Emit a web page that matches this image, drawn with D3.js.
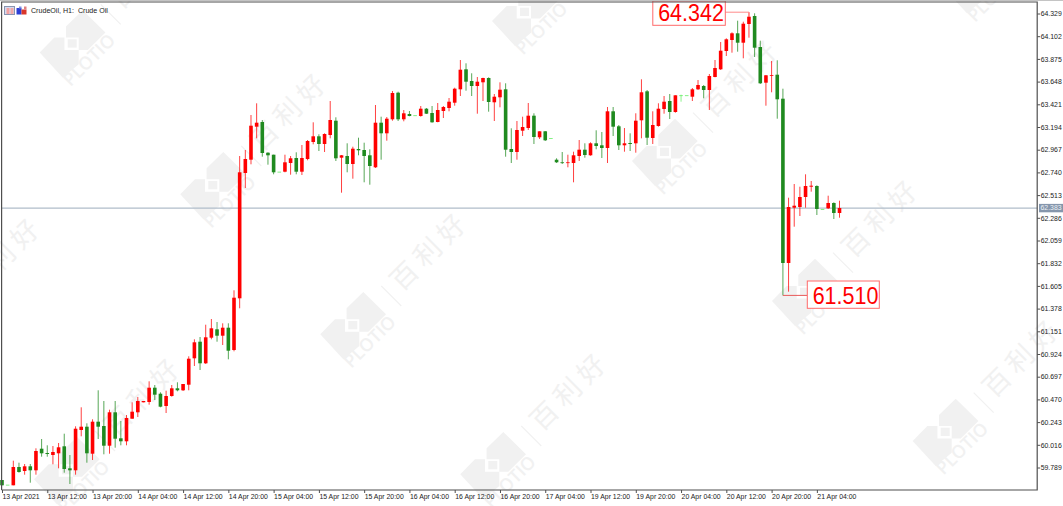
<!DOCTYPE html>
<html><head><meta charset="utf-8">
<script src="https://cdn.jsdelivr.net/npm/d3@7/dist/d3.min.js"></script>
<style>html,body{margin:0;padding:0;background:#fff;overflow:hidden}svg{display:block}</style>
</head><body><svg id="c" width="1063" height="506"></svg>
<script>
const opens=[59.664,59.617,59.611,59.794,59.754,59.801,59.761,59.977,59.934,59.914,59.931,60.001,59.781,59.761,60.164,60.197,59.927,60.247,60.204,60.007,60.341,60.081,60.051,60.277,60.341,60.441,60.444,60.587,60.527,60.404,60.504,60.581,60.561,60.617,60.881,61.047,60.831,61.087,61.171,61.107,61.187,60.964,61.481,62.734,62.867,63.197,63.244,62.937,62.917,62.747,62.747,62.834,62.884,62.747,62.874,63.044,63.101,63.024,63.114,63.257,62.887,62.904,62.824,62.974,62.964,62.911,62.791,63.237,63.131,63.271,63.537,63.271,63.324,63.311,63.304,63.377,63.334,63.244,63.354,63.384,63.437,63.571,63.771,63.654,63.604,63.641,63.684,63.441,63.491,63.571,62.974,62.944,63.157,63.184,63.307,63.091,63.151,63.084,62.867,62.841,62.834,62.834,62.904,62.967,62.911,63.031,63.011,62.984,63.351,63.201,63.011,63.034,63.031,63.261,63.551,63.084,63.204,63.374,63.454,63.344,63.511,63.511,63.497,63.571,63.604,63.564,63.694,63.771,63.954,64.064,64.131,64.037,64.224,64.304,63.994,63.637,63.707,63.717,63.477,61.834,62.387,62.394,62.494,62.597,62.604,62.374,62.381,62.434,62.334];
const highs=[59.664,59.617,59.857,59.837,59.824,59.824,59.981,60.074,60.011,60.004,60.034,60.127,59.914,60.201,60.391,60.231,60.271,60.561,60.454,60.367,60.454,60.254,60.314,60.441,60.494,60.454,60.651,60.614,60.541,60.557,60.614,60.641,60.624,60.901,61.071,61.094,61.217,61.274,61.244,61.231,61.231,61.561,62.904,62.964,63.314,63.431,63.264,62.941,62.917,62.747,62.917,62.904,62.941,63.014,63.064,63.241,63.121,63.131,63.454,63.291,62.914,63.031,62.997,63.087,63.037,62.971,63.414,63.297,63.294,63.554,63.547,63.364,63.354,63.311,63.404,63.384,63.404,63.434,63.404,63.484,63.587,63.864,63.831,63.731,63.694,63.687,63.691,63.524,63.641,63.631,63.181,63.254,63.297,63.434,63.331,63.151,63.154,63.084,62.881,62.944,62.917,62.947,63.064,63.031,63.041,63.161,63.144,63.394,63.394,63.214,63.184,63.131,63.331,63.671,63.564,63.351,63.431,63.504,63.524,63.511,63.517,63.511,63.584,63.664,63.614,63.724,63.864,64.044,64.081,64.141,64.257,64.247,64.342,64.331,64.057,63.714,63.854,63.861,63.577,62.487,62.624,62.597,62.721,62.654,62.611,62.374,62.507,62.441,62.457];
const lows=[59.611,59.617,59.611,59.737,59.717,59.637,59.717,59.897,59.897,59.821,59.781,59.737,59.624,59.717,60.101,59.837,59.864,60.074,59.921,59.927,59.987,60.011,60.011,60.277,60.294,60.441,60.417,60.464,60.391,60.334,60.497,60.551,60.554,60.561,60.804,60.764,60.824,61.071,61.047,61.014,60.871,60.951,61.381,62.584,62.821,63.081,62.897,62.817,62.721,62.747,62.741,62.717,62.721,62.714,62.861,63.021,62.954,62.944,63.081,62.854,62.537,62.741,62.677,62.911,62.641,62.617,62.784,62.867,63.057,63.257,63.254,63.251,63.301,63.311,63.297,63.324,63.237,63.241,63.284,63.351,63.407,63.504,63.557,63.504,63.327,63.454,63.347,63.254,63.391,62.897,62.834,62.867,63.104,63.164,63.024,63.074,63.054,63.084,62.834,62.824,62.791,62.641,62.854,62.887,62.907,62.971,62.884,62.834,63.104,62.964,62.947,62.954,62.937,63.081,63.014,63.024,63.197,63.327,63.274,63.337,63.447,63.511,63.454,63.564,63.481,63.364,63.691,63.764,63.904,63.937,63.947,63.881,64.087,63.894,63.624,63.407,63.541,63.277,61.510,61.547,62.197,62.304,62.387,62.547,62.314,62.374,62.374,62.274,62.287];
const closes=[59.611,59.617,59.794,59.744,59.801,59.761,59.954,59.931,59.924,59.944,59.991,59.774,59.761,60.177,60.197,59.931,60.247,60.197,60.007,60.341,60.077,60.051,60.284,60.347,60.454,60.454,60.587,60.517,60.397,60.504,60.581,60.561,60.624,60.877,61.041,60.831,61.091,61.181,61.107,61.187,60.957,61.487,62.741,62.874,63.207,63.237,62.934,62.911,62.741,62.747,62.841,62.881,62.747,62.884,63.054,63.101,63.024,63.124,63.264,62.881,62.911,62.824,62.977,62.961,62.904,62.804,63.237,63.131,63.277,63.534,63.271,63.331,63.304,63.311,63.377,63.327,63.241,63.364,63.394,63.447,63.577,63.767,63.647,63.604,63.647,63.684,63.444,63.497,63.567,62.967,62.944,63.164,63.194,63.307,63.094,63.151,63.061,63.084,62.841,62.834,62.841,62.911,62.967,62.914,63.031,63.004,62.984,63.351,63.197,63.011,63.031,63.024,63.257,63.541,63.087,63.214,63.377,63.447,63.344,63.511,63.511,63.511,63.571,63.614,63.564,63.704,63.784,63.957,64.071,64.131,64.037,64.227,64.297,63.987,63.631,63.711,63.714,63.471,61.834,62.394,62.407,62.494,62.604,62.607,62.374,62.374,62.434,62.334,62.384];
const priceTicks=[64.329,64.102,63.875,63.648,63.421,63.194,62.967,62.740,62.513,62.286,62.059,61.832,61.605,61.378,61.151,60.924,60.697,60.470,60.243,60.016,59.789];
const timeLabels=["13 Apr 2021","13 Apr 12:00","13 Apr 20:00","14 Apr 04:00","14 Apr 12:00","14 Apr 20:00","15 Apr 04:00","15 Apr 12:00","15 Apr 20:00","16 Apr 04:00","16 Apr 12:00","16 Apr 20:00","17 Apr 04:00","19 Apr 12:00","19 Apr 20:00","20 Apr 04:00","20 Apr 12:00","20 Apr 20:00","21 Apr 04:00"];
const tickEvery=8;
const bidPrice=62.383, highPrice=64.342, lowPrice=61.510;
const title="CrudeOil, H1:  Crude Oil";
const wmOrigins=[[72.7,43.3],[213.3,185],[353.3,325],[493.3,465],[-73,330],[67,470],[525,11.7],[665,151.7],[805,291.7],[945.7,431.7],[977,-21]];

const svg=d3.select("#c");
const RED="#ff0000",GREEN="#1f8a1f",FLAT="#66ee66",AXIS="#4f4f4f",WM="#f1f1f1";
const x=d3.scaleLinear().domain([0,148]).range([2,839.5]);
const y=d3.scaleLinear().domain([59.789,64.329]).range([467.5,13.5]);
const L=1.6,R=1037.2,T=2,B=490;

// watermarks
const wm=svg.append("g");
const upper=[[10,-33],[32.7,-10.7],[15,6.7],[6,6.7],[6,-5.7],[-6.7,-5.7],[-6.7,-16.7]];
const lower=[[-33,9.3],[-18.3,-5.7],[-8.3,-5.7],[-8.3,6.7],[6,6.7],[6,21],[-10,34.3]];
wmOrigins.forEach(o=>{
  const g=wm.append("g").attr("transform",`translate(${o[0]},${o[1]})`);
  [upper,lower].forEach(p=>g.append("polygon").attr("points",p.join(" ")).attr("fill",WM));
  g.append("rect").attr("x",-5).attr("y",-4).attr("width",9).attr("height",8.3).attr("fill",WM);
  g.append("text").text("PLOTIO").attr("transform","translate(17.4,17.7) rotate(-45)")
    .attr("text-anchor","middle").attr("dominant-baseline","middle")
    .attr("font-family","Open Sans").attr("font-weight",600).attr("font-size",18).attr("fill",WM);
  g.append("line").attr("x1",28).attr("y1",-39).attr("x2",48).attr("y2",-19).attr("stroke",WM).attr("stroke-width",1.2);
  g.append("text").text("百利好").attr("transform","translate(78,-73) rotate(-45)")
    .attr("text-anchor","middle").attr("dominant-baseline","middle").attr("letter-spacing",6)
    .attr("font-family","Noto Sans CJK SC").attr("font-size",27).attr("fill",WM);
});

// bid line
svg.append("line").attr("x1",L).attr("x2",R).attr("y1",y(bidPrice)).attr("y2",y(bidPrice)).attr("stroke","#b0bdca").attr("stroke-width",1.3);

// candles
const idx=d3.range(opens.length);
const col=i=>closes[i]>opens[i]?RED:closes[i]<opens[i]?GREEN:FLAT;
const cs=svg.append("g");
cs.selectAll("line").data(idx).join("line")
  .attr("x1",i=>x(i)).attr("x2",i=>x(i)).attr("y1",i=>y(highs[i])).attr("y2",i=>y(lows[i]))
  .attr("stroke",col).attr("stroke-width",1).attr("stroke-opacity",0.75);
cs.selectAll("rect").data(idx).join("rect")
  .attr("x",i=>x(i)-1.8).attr("width",3.6)
  .attr("y",i=>y(Math.max(opens[i],closes[i])))
  .attr("height",i=>Math.max(0.8,Math.abs(y(opens[i])-y(closes[i]))))
  .attr("fill",col);

// annotations
const hi=132, lo=138;
const ann=svg.append("g");
ann.append("path").attr("d",`M725.3,${y(highPrice)}H${x(hi)}V${y(highs[hi])+4}`).attr("fill","none").attr("stroke","#ff8a8a").attr("stroke-width",1);
ann.append("path").attr("d",`M${x(lo)},${y(lowPrice)}H807.3`).attr("fill","none").attr("stroke","#e85a5a").attr("stroke-width",1);
ann.append("rect").attr("x",652.8).attr("y",1).attr("width",72.5).attr("height",24.3).attr("fill","#fff").attr("stroke","#ff6a6a");
ann.append("rect").attr("x",807.3).attr("y",281).attr("width",72).attr("height",27.3).attr("fill","#fff").attr("stroke","#ff6a6a");
ann.append("text").text(highPrice.toFixed(3)).attr("x",691).attr("y",20.8).attr("text-anchor","middle")
  .attr("textLength",65.7).attr("lengthAdjust","spacingAndGlyphs")
  .attr("font-family","Liberation Sans").attr("font-size",23.5).attr("fill",RED);
ann.append("text").text(lowPrice.toFixed(3)).attr("x",845.5).attr("y",304).attr("text-anchor","middle")
  .attr("textLength",65.7).attr("lengthAdjust","spacingAndGlyphs")
  .attr("font-family","Liberation Sans").attr("font-size",23.5).attr("fill",RED);

// frame
svg.append("path").attr("fill","none").attr("stroke",AXIS).attr("stroke-width",1.2)
  .attr("d",`M${L},${B}V${T}H${R}V${B}H${L}`);
svg.append("line").attr("x1",0).attr("x2",1063).attr("y1",0.5).attr("y2",0.5).attr("stroke","#c4c4c4");

// axes
const yAxis=d3.axisRight(y).tickValues(priceTicks).tickFormat(d3.format(".3f")).tickSize(3).tickPadding(0.5);
const ya=svg.append("g").attr("transform",`translate(${R},0)`).call(yAxis);
const tickIdx=timeLabels.map((_,k)=>k*tickEvery);
const xAxis=d3.axisBottom(x).tickValues(tickIdx).tickFormat((d,k)=>timeLabels[k]).tickSize(3).tickPadding(0);
const xa=svg.append("g").attr("transform",`translate(0,${B})`).call(xAxis);
[ya,xa].forEach(a=>{
  a.select(".domain").remove();
  a.selectAll("line").attr("stroke",AXIS);
  a.selectAll("text").attr("fill","#222").attr("font-family","Liberation Sans").attr("font-size",6.9);
});
xa.selectAll("text").attr("text-anchor","start").attr("y",4.4);

// bid tag
svg.append("rect").attr("x",1039).attr("y",y(bidPrice)-4.2).attr("width",24).attr("height",8.4).attr("fill","#8596ac");
svg.append("text").text(bidPrice.toFixed(3)).attr("x",1040.5).attr("y",y(bidPrice)).attr("dy","0.34em")
  .attr("font-family","Liberation Sans").attr("font-size",6.9).attr("fill","#eef2f6");

// header
const ic=svg.append("g");
ic.append("rect").attr("x",4.5).attr("y",6.5).attr("width",10).attr("height",8).attr("fill","#d5dcf0").attr("stroke","#8a94b0");
ic.append("rect").attr("x",6.5).attr("y",8).attr("width",3).attr("height",6).attr("fill","#f3a0a0");
ic.append("rect").attr("x",10.5).attr("y",8).attr("width",3).attr("height",6).attr("fill","#f0a8a8");
ic.append("rect").attr("x",16.5).attr("y",8).attr("width",5).attr("height",6.5).attr("fill","#2b3fd6");
ic.append("rect").attr("x",21.5).attr("y",9.5).attr("width",5).attr("height",5).attr("fill","#d9362b");
ic.append("rect").attr("x",19).attr("y",6.5).attr("width",2.5).attr("height",2).attr("fill","#7f8fe0");
ic.append("rect").attr("x",24).attr("y",6.5).attr("width",2.5).attr("height",3).attr("fill","#e08080");
svg.append("text").text(title).attr("x",31).attr("y",12.8).style("white-space","pre")
  .attr("font-family","Liberation Sans").attr("font-size",7.1).attr("fill","#222");
</script></body></html>
